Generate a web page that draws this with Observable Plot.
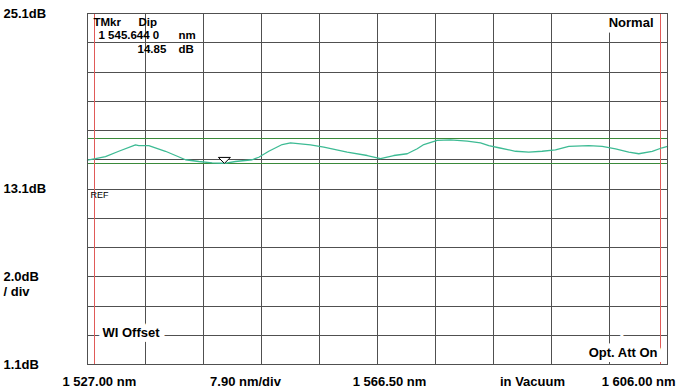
<!DOCTYPE html>
<html>
<head>
<meta charset="utf-8">
<script src="https://cdn.jsdelivr.net/npm/d3@7"></script>
<script src="https://cdn.jsdelivr.net/npm/@observablehq/plot@0.6"></script>
<style>
  html, body { margin: 0; padding: 0; background: white; }
  svg text { white-space: pre; }
</style>
</head>
<body>
<div id="chart"></div>
<script>
// Instrument settings
const xStart = 1527.0, xPerDiv = 7.9, xDivs = 10;
const yTop = 25.1, yPerDiv = 2.0, yDivs = 12;

// Trace (wavelength nm, level dB)
const traceNm = [1527.0, 1528.09, 1529.45, 1531.26, 1533.54, 1533.99, 1535.35, 1537.62, 1538.99, 1540.35,
  1542.16, 1543.98, 1545.35, 1545.64, 1547.16, 1549.43, 1550.33, 1551.69, 1553.52, 1554.65,
  1557.37, 1559.19, 1562.37, 1565.10, 1566.91, 1568.72, 1570.55, 1571.91, 1572.81, 1574.63,
  1576.44, 1578.72, 1580.53, 1581.66, 1583.02, 1585.30, 1587.11, 1588.93, 1590.74, 1592.56,
  1595.28, 1597.11, 1598.92, 1600.73, 1602.09, 1603.92, 1605.28, 1606.0];
const traceDb = [15.08, 15.17, 15.32, 15.68, 16.12, 16.07, 16.07, 15.68, 15.39, 15.10,
  14.98, 14.89, 14.86, 14.85, 14.98, 15.10, 15.27, 15.68, 16.14, 16.26,
  16.12, 15.96, 15.62, 15.39, 15.17, 15.39, 15.51, 15.85, 16.14, 16.42,
  16.46, 16.37, 16.26, 16.07, 15.92, 15.68, 15.62, 15.68, 15.78, 16.01,
  16.07, 16.01, 15.85, 15.62, 15.51, 15.68, 15.92, 16.01];

// Marker, thresholds, line markers
const markerNm = [1545.644];
const markerDb = [14.85];
const thresholdDb = [16.55, 14.85];
const lineMarkersNm = [1527.95, 1605.05];

// Text labels
const leftLabelValues = [25.1, 13.1, 7.1, 1.1];
const leftLabelTexts = ["25.1dB", "13.1dB", "2.0dB", "1.1dB"];
const readoutWords = ["TMkr", "Dip", "1 545.644 0", "nm", "14.85", "dB"];
const bottomLabels = ["1 527.00 nm", "7.90 nm/div", "1 566.50 nm", "in Vacuum", "1 606.00 nm"];

const trace = traceNm.map((nm, i) => ({nm, db: traceDb[i]}));
const marker = markerNm.map((nm, i) => ({nm, db: markerDb[i]}));
const leftLabels = leftLabelValues.map((v, i) => ({v, t: leftLabelTexts[i]}));
const xGrid = d3.range(xDivs + 1).map(i => xStart + xPerDiv * i);
const yGrid = d3.range(yDivs + 1).map(i => yTop - yPerDiv * i);

const invTriangle = {
  draw(ctx) {
    ctx.moveTo(-6, -6);
    ctx.lineTo(6, -6);
    ctx.lineTo(0, 0);
    ctx.closePath();
  }
};

const gridColor = "#505050";
const font = {fontSize: 13, fontWeight: "bold", fill: "black"};
const rfont = {fontSize: 11.5, fontWeight: "bold", fill: "black"};
// readout placement offsets (dx, dy) from the frame's top-left corner
const readoutPos = [[6, 8.6], [51, 8.6], [11, 22.0], [91, 22.0], [50, 35.4], [91, 35.4]];

const chart = Plot.plot({
  width: 682,
  height: 391,
  marginLeft: 87,
  marginRight: 15,
  marginTop: 13,
  marginBottom: 27,
  x: {domain: [xStart, xStart + xPerDiv * xDivs], axis: null},
  y: {domain: [yTop - yPerDiv * yDivs, yTop], axis: null},
  style: {fontFamily: "'Liberation Sans', Arial, sans-serif", background: "white", color: "black"},
  marks: [
    Plot.ruleX(xGrid, {stroke: gridColor, strokeWidth: 1, shapeRendering: "crispEdges"}),
    Plot.ruleY(yGrid, {stroke: gridColor, strokeWidth: 1, shapeRendering: "crispEdges"}),
    Plot.ruleY(thresholdDb, {stroke: "#3a8a3a", strokeWidth: 1, shapeRendering: "crispEdges"}),
    Plot.ruleX(lineMarkersNm, {stroke: "#e05a58", strokeWidth: 1, shapeRendering: "crispEdges"}),
    Plot.line(trace, {x: "nm", y: "db", stroke: "#3dbb94", strokeWidth: 1.3}),
    Plot.dot(marker, {x: "nm", y: "db", symbol: invTriangle, fill: "white", stroke: "black", strokeWidth: 1}),
    // Left scale labels
    Plot.text(leftLabels, {y: "v", text: "t", frameAnchor: "left", dx: -84, textAnchor: "start", lineAnchor: "middle", ...font}),
    Plot.text(["/ div"], {y: [leftLabelValues[2]], frameAnchor: "left", dx: -84, dy: 15.5, textAnchor: "start", lineAnchor: "middle", ...font}),
    // Bottom labels
    Plot.text([bottomLabels[0]], {frameAnchor: "bottom-left", dx: -25, dy: 17.5, textAnchor: "start", lineAnchor: "middle", ...font}),
    Plot.text([bottomLabels[1]], {frameAnchor: "bottom-left", dx: 158, dy: 17.5, textAnchor: "middle", lineAnchor: "middle", ...font}),
    Plot.text([bottomLabels[2]], {frameAnchor: "bottom", dx: 12, dy: 17.5, textAnchor: "middle", lineAnchor: "middle", ...font}),
    Plot.text([bottomLabels[3]], {frameAnchor: "bottom-right", dx: -135, dy: 17.5, textAnchor: "middle", lineAnchor: "middle", ...font}),
    Plot.text([bottomLabels[4]], {frameAnchor: "bottom-right", dx: 8, dy: 17.5, textAnchor: "end", lineAnchor: "middle", ...font}),
    // Marker readout
    ...readoutWords.map((w, i) => Plot.text([w], {frameAnchor: "top-left", dx: readoutPos[i][0], dy: readoutPos[i][1], textAnchor: "start", lineAnchor: "middle", ...rfont})),
    // Status labels with white background
    Plot.text(["Normal"], {frameAnchor: "top-right", dx: -14, dy: 9.5, textAnchor: "end", lineAnchor: "middle", stroke: "white", strokeWidth: 11, strokeLinejoin: "miter", ...font}),
    Plot.text(["WI Offset"], {frameAnchor: "bottom-left", dx: 15, dy: -31.5, textAnchor: "start", lineAnchor: "middle", stroke: "white", strokeWidth: 10, strokeLinejoin: "miter", ...font}),
    Plot.text(["Opt. Att On"], {frameAnchor: "bottom-right", dx: -10, dy: -12, textAnchor: "end", lineAnchor: "middle", stroke: "white", strokeWidth: 10, strokeLinejoin: "miter", ...font}),
    // REF label
    Plot.text(["REF"], {y: [13.1], frameAnchor: "left", dx: 3, dy: 6.5, textAnchor: "start", lineAnchor: "middle", fontSize: 9, fill: "black"}),
    Plot.frame({stroke: gridColor, shapeRendering: "crispEdges"})
  ]
});
document.getElementById("chart").appendChild(chart);
</script>
</body>
</html>
